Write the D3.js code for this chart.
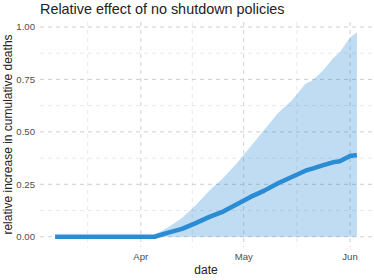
<!DOCTYPE html>
<html>
<head>
<meta charset="UTF-8">
<style>
  body { margin: 0; background: #fff; }
  svg { display: block; font-family: "Liberation Sans", Arial, sans-serif; }
</style>
</head>
<body>
<svg></svg>
<script src="https://d3js.org/d3.v7.min.js"></script>
<script>
// data
let dates = ["2020-03-07", "2020-03-14", "2020-03-21", "2020-03-28", "2020-04-03", "2020-04-05",
  "2020-04-09", "2020-04-13", "2020-04-17", "2020-04-21", "2020-04-25", "2020-04-29",
  "2020-05-03", "2020-05-07", "2020-05-11", "2020-05-15", "2020-05-19", "2020-05-21",
  "2020-05-24", "2020-05-27", "2020-05-29", "2020-06-01", "2020-06-03"];
let meanEffect = [0, 0, 0, 0, 0, 0,
  0.02, 0.038, 0.065, 0.095, 0.12, 0.155,
  0.19, 0.22, 0.255, 0.285, 0.315, 0.325,
  0.34, 0.355, 0.36, 0.385, 0.39];
let upperEffect = [0, 0, 0, 0, 0, 0.01,
  0.045, 0.09, 0.15, 0.22, 0.28, 0.35,
  0.43, 0.51, 0.59, 0.65, 0.73, 0.745,
  0.79, 0.85, 0.88, 0.95, 0.975];
let lowerEffect = dates.map(() => 0);
let yTicks = [0, 0.25, 0.5, 0.75, 1];
let xTicks = ["2020-04-01", "2020-05-01", "2020-06-01"];
let xMinor = ["2020-03-16T12:00", "2020-04-16", "2020-05-16T12:00"];

let width = 374, height = 280;
let pLeft = 40, pRight = 372, pTop = 22, pBottom = 247;

let svg = d3.select("svg")
    .attr("width", width)
    .attr("height", height);

let parse = s => new Date(s.length > 10 ? s + "Z" : s + "T00:00Z");

let data = dates.map((d, i) => ({
  date: parse(d), mean: meanEffect[i], lo: lowerEffect[i], hi: upperEffect[i]
}));

// ggplot style 5% expansion
let xExt = d3.extent(data, d => d.date);
let xPad = (xExt[1] - xExt[0]) * 0.05;
let x = d3.scaleUtc()
    .domain([new Date(+xExt[0] - xPad), new Date(+xExt[1] + xPad)])
    .range([pLeft, pRight]);

let yMax = d3.max(data, d => d.hi);
let y = d3.scaleLinear()
    .domain([-yMax * 0.05, yMax * 1.05])
    .range([pBottom, pTop]);

let grid = svg.append("g");

// minor grid
grid.selectAll("line.ymin")
  .data([0.125, 0.375, 0.625, 0.875])
  .enter().append("line")
    .attr("x1", pLeft).attr("x2", pRight)
    .attr("y1", d => y(d)).attr("y2", d => y(d))
    .attr("stroke", "#e2e2e2").attr("stroke-width", 0.8)
    .attr("stroke-dasharray", "4,4");

grid.selectAll("line.xmin")
  .data(xMinor.map(parse))
  .enter().append("line")
    .attr("x1", d => x(d)).attr("x2", d => x(d))
    .attr("y1", pTop).attr("y2", pBottom)
    .attr("stroke", "#e2e2e2").attr("stroke-width", 0.8)
    .attr("stroke-dasharray", "4,4");

// major grid
grid.selectAll("line.ymaj")
  .data(yTicks)
  .enter().append("line")
    .attr("x1", pLeft).attr("x2", pRight)
    .attr("y1", d => y(d)).attr("y2", d => y(d))
    .attr("stroke", "#cfcfcf").attr("stroke-width", 1)
    .attr("stroke-dasharray", "4,4");

grid.selectAll("line.xmaj")
  .data(xTicks.map(parse))
  .enter().append("line")
    .attr("x1", d => x(d)).attr("x2", d => x(d))
    .attr("y1", pTop).attr("y2", pBottom)
    .attr("stroke", "#cfcfcf").attr("stroke-width", 1)
    .attr("stroke-dasharray", "4,4");

// ribbon
svg.append("path")
  .datum(data)
  .attr("fill", "#2b8cd6")
  .attr("fill-opacity", 0.3)
  .attr("d", d3.area()
    .x(d => x(d.date))
    .y0(d => y(d.lo))
    .y1(d => y(d.hi)));

// mean line
svg.append("path")
  .datum(data)
  .attr("fill", "none")
  .attr("stroke", "#2b8cd6")
  .attr("stroke-width", 4.5)
  .attr("stroke-linejoin", "round")
  .attr("d", d3.line()
    .x(d => x(d.date))
    .y(d => y(d.mean)));

// tick labels
svg.append("g").selectAll("text")
  .data(yTicks)
  .enter().append("text")
    .attr("x", pLeft - 5)
    .attr("y", d => y(d))
    .attr("dy", "0.35em")
    .attr("text-anchor", "end")
    .attr("font-size", 9.6)
    .attr("fill", "#4d4d4d")
    .text(d => d3.format(".2f")(d));

svg.append("g").selectAll("text")
  .data(xTicks.map(parse))
  .enter().append("text")
    .attr("x", d => x(d))
    .attr("y", pBottom + 13)
    .attr("text-anchor", "middle")
    .attr("font-size", 9.6)
    .attr("fill", "#4d4d4d")
    .text(d => d3.utcFormat("%b")(d));

// axis titles
svg.append("text")
  .attr("x", (pLeft + pRight) / 2)
  .attr("y", 274)
  .attr("text-anchor", "middle")
  .attr("font-size", 12)
  .attr("fill", "#222")
  .text("date");

svg.append("text")
  .attr("transform", "translate(12," + ((pTop + pBottom) / 2) + ") rotate(-90)")
  .attr("text-anchor", "middle")
  .attr("font-size", 12)
  .attr("fill", "#222")
  .text("relative increase in cumulative deaths");

svg.append("text")
  .attr("x", pLeft)
  .attr("y", 14)
  .attr("font-size", 14.4)
  .attr("fill", "#222")
  .text("Relative effect of no shutdown policies");
</script>
</body>
</html>
